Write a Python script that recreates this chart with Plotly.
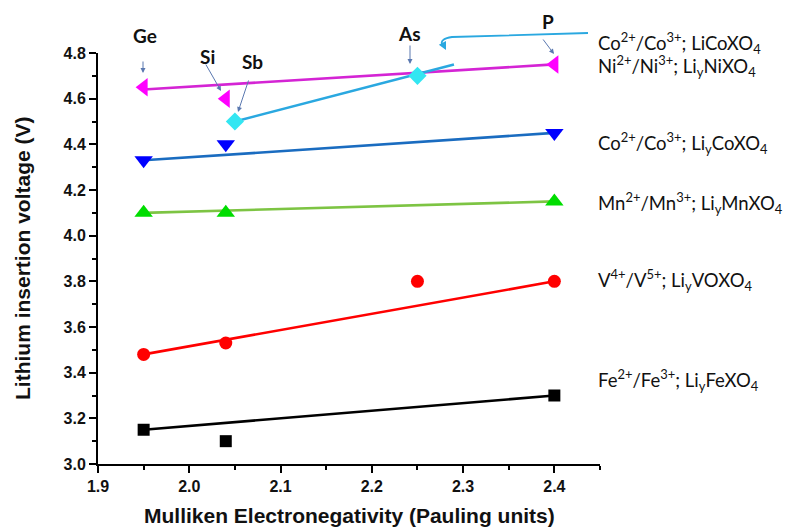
import plotly.graph_objects as go

# Mulliken electronegativity of the polyanion central atom X (Pauling units)
# vs. lithium insertion voltage (V) for several LiMXO4 redox couples.
fe_x = [1.95, 2.04, 2.40]
fe_y = [3.15, 3.10, 3.30]
fe_fit_x = [1.95, 2.40]
fe_fit_y = [3.15, 3.30]

v_x = [1.95, 2.04, 2.25, 2.40]
v_y = [3.48, 3.53, 3.80, 3.80]
v_fit_x = [1.95, 2.40]
v_fit_y = [3.48, 3.80]

mn_x = [1.95, 2.04, 2.40]
mn_y = [4.10, 4.10, 4.15]
mn_fit_x = [1.95, 2.40]
mn_fit_y = [4.10, 4.15]

co_x = [1.95, 2.04, 2.40]
co_y = [4.33, 4.40, 4.45]
co_fit_x = [1.95, 2.40]
co_fit_y = [4.33, 4.45]

ni_x = [1.95, 2.04, 2.40]
ni_y = [4.65, 4.60, 4.75]
ni_fit_x = [1.95, 2.40]
ni_fit_y = [4.64, 4.75]

lico_x = [2.05, 2.25]
lico_y = [4.50, 4.70]
lico_fit_x = [2.05, 2.29]
lico_fit_y = [4.50, 4.75]

x_tick_vals = [1.9, 2.0, 2.1, 2.2, 2.3, 2.4]
x_tick_text = ["1.9", "2.0", "2.1", "2.2", "2.3", "2.4"]
y_tick_vals = [3.0, 3.2, 3.4, 3.6, 3.8, 4.0, 4.2, 4.4, 4.6, 4.8]
y_tick_text = ["3.0", "3.2", "3.4", "3.6", "3.8", "4.0", "4.2", "4.4", "4.6", "4.8"]

series_labels = [
    "Co<sup>2+</sup>/Co<sup>3+</sup>; LiCoXO<sub>4</sub>",
    "Ni<sup>2+</sup>/Ni<sup>3+</sup>; Li<sub>y</sub>NiXO<sub>4</sub>",
    "Co<sup>2+</sup>/Co<sup>3+</sup>; Li<sub>y</sub>CoXO<sub>4</sub>",
    "Mn<sup>2+</sup>/Mn<sup>3+</sup>; Li<sub>y</sub>MnXO<sub>4</sub>",
    "V<sup>4+</sup>/V<sup>5+</sup>; Li<sub>y</sub>VOXO<sub>4</sub>",
    "Fe<sup>2+</sup>/Fe<sup>3+</sup>; Li<sub>y</sub>FeXO<sub>4</sub>",
]
element_labels = ["Ge", "Si", "Sb", "As", "P"]

W, H = 791, 527
ML, MR, MT, MB = 98, 191, 53, 63
PW, PH = W - ML - MR, H - MT - MB


def px(x):
    return (x - ML) / PW


def py(y):
    return (H - MB - y) / PH


fig = go.Figure()


def add_series(fx, fy, x, y, line_color, marker_color, symbol, size):
    fig.add_trace(go.Scatter(x=fx, y=fy, mode="lines",
                             line=dict(color=line_color, width=2.6),
                             showlegend=False, hoverinfo="skip"))
    fig.add_trace(go.Scatter(x=x, y=y, mode="markers",
                             marker=dict(color=marker_color, symbol=symbol, size=size,
                                         line=dict(width=0)),
                             showlegend=False))


add_series(fe_fit_x, fe_fit_y, fe_x, fe_y, "#000000", "#000000", "square", 12)
add_series(v_fit_x, v_fit_y, v_x, v_y, "#ff0000", "#ff0000", "circle", 13)
add_series(mn_fit_x, mn_fit_y, mn_x, mn_y, "#7dc443", "#00dd00", "triangle-up", 16)
add_series(co_fit_x, co_fit_y, co_x, co_y, "#1a6cc0", "#0000ff", "triangle-down", 16)
add_series(ni_fit_x, ni_fit_y, ni_x, ni_y, "#d424d4", "#ff00ff", "triangle-left", 16)
add_series(lico_fit_x, lico_fit_y, lico_x, lico_y, "#2aa8e0", "#33e6f2", "diamond", 14)

annotations = []

# series labels at the right of the plot
label_y = [43, 66, 143, 203, 280, 380]
for txt, yy in zip(series_labels, label_y):
    annotations.append(dict(x=px(596), y=py(yy), xref="paper", yref="paper",
                            text=txt, showarrow=False, xanchor="left", yanchor="middle",
                            font=dict(family="Lato", size=18.5, color="#111111")))

# element labels with pointer arrows
label_pos = [(145, 36), (207, 56), (252, 62), (409, 34), (548, 21)]
arrow_tips = [(143, 73), (221, 91), (238, 112), (410, 64), (554, 54)]
arrow_tails = [(143, 60), (205, 63), (249, 79), (410, 44), (542, 38)]
for name, (lx, ly), (tx, ty), (sx, sy) in zip(element_labels, label_pos, arrow_tips, arrow_tails):
    annotations.append(dict(x=px(lx), y=py(ly), xref="paper", yref="paper", text="<b>" + name + "</b>",
                            showarrow=False, font=dict(family="Lato", size=19, color="#111111"),
                            xanchor="center", yanchor="middle"))
    annotations.append(dict(x=px(tx), y=py(ty), xref="paper", yref="paper", text="",
                            showarrow=True, ax=sx - tx, ay=sy - ty, axref="pixel", ayref="pixel",
                            arrowhead=2, arrowsize=1, arrowwidth=1, arrowcolor="#5a78b0",
                            standoff=0))

# hooked pointer for the LiCoXO4 label
annotations.append(dict(x=px(446), y=py(50), xref="paper", yref="paper", text="",
                        showarrow=True, ax=-4, ay=-8, axref="pixel", ayref="pixel",
                        arrowhead=2, arrowsize=1, arrowwidth=1.6, arrowcolor="#2aa8e0",
                        standoff=0))

# axis titles
annotations.append(dict(x=px(349), y=py(515), xref="paper", yref="paper",
                        xanchor="center", yanchor="middle",
                        text="<b>Mulliken Electronegativity (Pauling units)</b>",
                        showarrow=False, font=dict(family="Liberation Sans", size=21, color="#111111")))
annotations.append(dict(x=px(22), y=py(258), xref="paper", yref="paper",
                        xanchor="center", yanchor="middle",
                        text="<b>Lithium insertion voltage (V)</b>", textangle=-90,
                        showarrow=False, font=dict(family="Liberation Sans", size=21, color="#111111")))

hook = "M {:.4f},{:.4f} L {:.4f},{:.4f} Q {:.4f},{:.4f} {:.4f},{:.4f}".format(
    px(588), py(33), px(452), py(37), px(440), py(39), px(442), py(44))
shapes = [dict(type="path", path=hook, xref="paper", yref="paper",
               line=dict(color="#2aa8e0", width=1.8))]

axis_common = dict(showgrid=False, zeroline=False, showline=True, linecolor="#000000",
                   linewidth=2, ticks="outside", ticklen=7, tickwidth=2, tickcolor="#000000",
                   tickfont=dict(family="Liberation Sans", size=16, color="#111111"),
                   minor=dict(ticks="outside", ticklen=4, tickwidth=1.5, tickcolor="#000000"),
                   mirror=False)

fig.update_layout(
    width=W, height=H,
    margin=dict(l=ML, r=MR, t=MT, b=MB),
    paper_bgcolor="#ffffff", plot_bgcolor="#ffffff",
    xaxis=dict(range=[1.9, 2.45], tickmode="array", tickvals=x_tick_vals,
               ticktext=["<b>" + t + "</b>" for t in x_tick_text],
               minor=dict(dtick=0.05, tick0=1.9, ticks="outside", ticklen=4, tickwidth=1.5,
                          tickcolor="#000000"),
               **{k: v for k, v in axis_common.items() if k != "minor"}),
    yaxis=dict(range=[3.0, 4.8], tickmode="array", tickvals=y_tick_vals,
               ticktext=["<b>" + t + "</b>" for t in y_tick_text],
               minor=dict(dtick=0.1, tick0=3.0, ticks="outside", ticklen=4, tickwidth=1.5,
                          tickcolor="#000000"),
               **{k: v for k, v in axis_common.items() if k != "minor"}),
    annotations=annotations,
    shapes=shapes,
    showlegend=False,
)
fig.update_traces(cliponaxis=False)

fig.write_html("out.html")
